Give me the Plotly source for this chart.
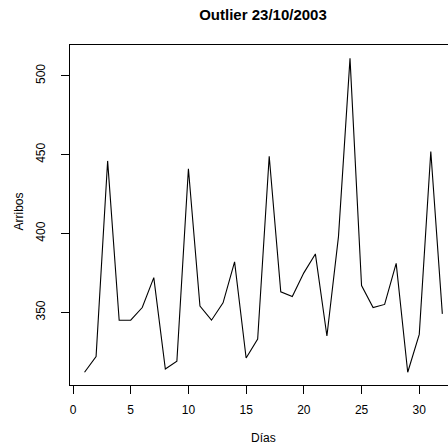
import plotly.graph_objects as go

days = list(range(1, 33))
arribos = [312, 322, 446, 345, 345, 353, 372, 314, 319, 441, 354, 345, 356, 382, 321, 333,
           449, 363, 360, 375, 387, 335, 398, 511, 367, 353, 355, 381, 312, 336, 452, 349]
x_ticks = [0, 5, 10, 15, 20, 25, 30]
y_ticks = [350, 400, 450, 500]
title_text = "Outlier 23/10/2003"
x_title = "Días"
y_title = "Arribos"

FONT = "Liberation Sans, Arial, Helvetica, sans-serif"
W, H = 448, 448
L, R, T, B = 70, 0, 45, 63
pw, ph = W - L - R, H - T - B

fig = go.Figure()
fig.add_trace(go.Scatter(x=days, y=arribos, mode="lines",
                         line=dict(color="black", width=1.1), showlegend=False))

fig.update_layout(
    width=W, height=H,
    margin=dict(l=L, r=R, t=T, b=B),
    paper_bgcolor="white", plot_bgcolor="white",
    font=dict(family=FONT, size=12, color="black"),
    title=dict(text="<b>" + title_text + "</b>", x=263/W, xref="container", xanchor="center",
               y=1 - 15/H, yref="container", yanchor="middle",
               font=dict(family=FONT, size=15, color="black")),
    xaxis=dict(range=[-0.26, 32.49], tickvals=x_ticks, ticktext=[str(v) for v in x_ticks],
               showgrid=False, zeroline=False, showline=True, linecolor="black", linewidth=1,
               mirror=True, ticks="outside", ticklen=8, tickcolor="black", tickwidth=1,
               ticklabelstandoff=6),
    yaxis=dict(range=[303.9, 519.5], tickvals=y_ticks, ticktext=[str(v) for v in y_ticks],
               showgrid=False, zeroline=False, showline=True, linecolor="black", linewidth=1,
               ticks="outside", ticklen=8, tickcolor="black", tickwidth=1, tickangle=-90,
               ticklabelstandoff=11),
    annotations=[
        dict(text=x_title, xref="paper", yref="paper", x=(263 - L) / pw, y=-(438 - (T + ph)) / ph,
             xanchor="center", yanchor="middle", showarrow=False, font=dict(size=12)),
        dict(text=y_title, xref="paper", yref="paper", x=(18.5 - L) / pw, y=(H - B - 212) / ph,
             xanchor="center", yanchor="middle", textangle=-90, showarrow=False,
             font=dict(size=12)),
    ],
)

fig.write_html("out.html")
